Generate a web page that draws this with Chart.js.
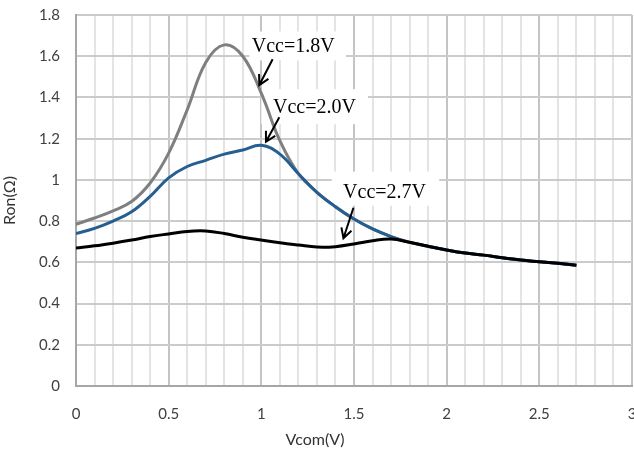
<!DOCTYPE html>
<html>
<head>
<meta charset="utf-8">
<script src="https://cdn.jsdelivr.net/npm/chart.js@4/dist/chart.umd.min.js"></script>
<style>
  html, body { margin: 0; padding: 0; background: #fff; }
  #wrap { width: 634px; height: 452px; }
</style>
</head>
<body>
<div id="wrap"><canvas id="ron"></canvas></div>
<script>
// Vcom sweep (V)
const vcom = [0, 0.1, 0.2, 0.3, 0.4, 0.5, 0.6, 0.7, 0.8, 0.9, 1.0, 1.1, 1.2, 1.3, 1.4,
              1.5, 1.6, 1.7, 1.8, 1.9, 2.0, 2.1, 2.2, 2.3, 2.4, 2.5, 2.6, 2.7];

// Ron (ohm) for each supply
const ron18 = [0.785, 0.815, 0.85, 0.895, 0.985, 1.13, 1.34, 1.57, 1.655, 1.60, 1.42, 1.19, 1.03, 0.94, 0.87,
               0.81, 0.762, 0.725, 0.697, 0.678, 0.66, 0.645, 0.635, 0.622, 0.611, 0.603, 0.595, 0.586];
const ron20 = [0.74, 0.765, 0.80, 0.845, 0.92, 1.01, 1.065, 1.095, 1.125, 1.145, 1.168, 1.125, 1.03, 0.94, 0.87,
               0.81, 0.762, 0.725, 0.697, 0.678, 0.66, 0.645, 0.635, 0.622, 0.611, 0.603, 0.595, 0.586];
const ron27 = [0.67, 0.68, 0.693, 0.708, 0.725, 0.738, 0.75, 0.752, 0.74, 0.722, 0.708, 0.695, 0.684, 0.674, 0.676,
               0.689, 0.705, 0.713, 0.697, 0.678, 0.66, 0.645, 0.635, 0.622, 0.611, 0.603, 0.595, 0.586];

const xTicks = [0, 0.5, 1, 1.5, 2, 2.5, 3];
const yTicks = [0, 0.2, 0.4, 0.6, 0.8, 1, 1.2, 1.4, 1.6, 1.8];

// callout labels: text, text anchor (data units), arrow from -> to (data units)
const callouts = [
  { text: 'Vcc=1.8V', x: 0.948, y: 1.622, box: [0.935, 1.72, 1.457, 1.58], arrow: [1.061, 1.585, 0.989, 1.46] },
  { text: 'Vcc=2.0V', x: 1.063, y: 1.325, box: [1.0, 1.44, 1.575, 1.27], arrow: [1.097, 1.304, 1.025, 1.185] },
  { text: 'Vcc=2.7V', x: 1.441, y: 0.912, box: [1.38, 1.04, 1.96, 0.875], arrow: [1.497, 0.865, 1.443, 0.717] }
];

const pts = arr => arr.map((v, i) => ({ x: vcom[i], y: v }));

const calloutPlugin = {
  id: 'callouts',
  beforeDatasetsDraw(chart) {
    const { ctx, scales: { x, y } } = chart;
    ctx.save();
    ctx.fillStyle = '#fff';
    callouts.forEach(c => {
      const x0 = x.getPixelForValue(c.box[0]), y0 = y.getPixelForValue(c.box[1]);
      const x1 = x.getPixelForValue(c.box[2]), y1 = y.getPixelForValue(c.box[3]);
      ctx.fillRect(x0, y0, x1 - x0, y1 - y0);
    });
    ctx.restore();
  },
  afterDatasetsDraw(chart) {
    const { ctx, scales: { x, y } } = chart;
    ctx.save();
    ctx.fillStyle = '#000';
    ctx.strokeStyle = '#000';
    ctx.lineWidth = 2;
    ctx.font = '20px "Liberation Serif", "Times New Roman", serif';
    ctx.textBaseline = 'alphabetic';
    callouts.forEach(c => {
      ctx.fillText(c.text, x.getPixelForValue(c.x), y.getPixelForValue(c.y));
      const ax = x.getPixelForValue(c.arrow[0]), ay = y.getPixelForValue(c.arrow[1]);
      const bx = x.getPixelForValue(c.arrow[2]), by = y.getPixelForValue(c.arrow[3]);
      ctx.beginPath();
      ctx.moveTo(ax, ay);
      ctx.lineTo(bx, by);
      const ang = Math.atan2(by - ay, bx - ax);
      const h = 11;
      ctx.moveTo(bx - h * Math.cos(ang - 0.5), by - h * Math.sin(ang - 0.5));
      ctx.lineTo(bx, by);
      ctx.lineTo(bx - h * Math.cos(ang + 0.5), by - h * Math.sin(ang + 0.5));
      ctx.stroke();
    });
    // x axis title
    ctx.fillStyle = '#333';
    ctx.font = '16px Lato, "Liberation Sans", sans-serif';
    ctx.textAlign = 'center';
    ctx.textBaseline = 'middle';
    ctx.fillText('Vcom(V)', 315, 440);
    ctx.restore();
  }
};

const isMajor = v => Math.round(v * 10) % 5 === 0;

new Chart(document.getElementById('ron').getContext('2d'), {
  type: 'line',
  data: {
    datasets: [
      { label: 'Vcc=2.7V', data: pts(ron27), borderColor: '#000000', borderWidth: 3, order: 0 },
      { label: 'Vcc=2.0V', data: pts(ron20), borderColor: '#255e91', borderWidth: 3, order: 1 },
      { label: 'Vcc=1.8V', data: pts(ron18), borderColor: '#7f7f7f', borderWidth: 3, order: 2 }
    ]
  },
  options: {
    responsive: true,
    maintainAspectRatio: false,
    animation: false,
    layout: { padding: { top: 15, right: 2, left: 0, bottom: 0 } },
    elements: {
      point: { radius: 0 },
      line: { tension: 0.4, fill: false }
    },
    plugins: {
      legend: { display: false },
      tooltip: { enabled: false }
    },
    scales: {
      x: {
        type: 'linear',
        min: 0,
        max: 3,
        afterFit(scale) { scale.height = 66; scale.paddingLeft = 0; scale.paddingRight = 0; },
        afterBuildTicks(scale) {
          const t = [];
          for (let i = 0; i <= 30; i++) t.push({ value: i / 10 });
          scale.ticks = t;
        },
        ticks: {
          autoSkip: false,
          maxRotation: 0,
          padding: 19,
          color: '#404040',
          font: { family: 'Lato', size: 15 },
          callback: v => (isMajor(v) && xTicks.includes(Math.round(v * 10) / 10)) ? String(Math.round(v * 10) / 10) : ''
        },
        grid: {
          drawTicks: false,
          lineWidth: 2,
          color: ctx => isMajor(ctx.tick.value) ? '#c4c4c4' : '#e4e4e4'
        },
        border: { color: '#a6a6a6', width: 2 }
      },
      y: {
        min: 0,
        max: 1.8,
        afterFit(scale) { scale.width = 76; scale.paddingTop = 0; scale.paddingBottom = 0; },
        afterBuildTicks(scale) { scale.ticks = yTicks.map(v => ({ value: v })); },
        ticks: {
          padding: 16,
          color: '#404040',
          font: { family: 'Lato', size: 15 },
          callback: v => String(Math.round(v * 10) / 10)
        },
        grid: { drawTicks: false, lineWidth: 2, color: '#cbcbcb' },
        border: { color: '#a6a6a6', width: 2 },
        title: {
          display: true,
          text: 'Ron(Ω)',
          color: '#333',
          font: { family: 'Lato', size: 16 },
          padding: { top: 0, bottom: 0 }
        }
      }
    }
  },
  plugins: [calloutPlugin]
});
</script>
</body>
</html>
